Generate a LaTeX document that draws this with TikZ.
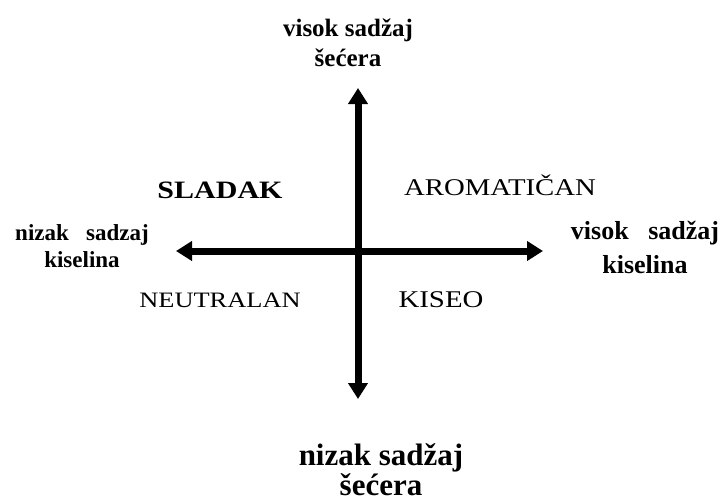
\documentclass[tikz,border=0pt]{standalone}
\usepackage{fontspec}
\setmainfont{Liberation Serif}
\newfontfamily\widefont[FakeStretch=1.2]{Liberation Serif}
\usetikzlibrary{arrows.meta}

\begin{document}
\begin{tikzpicture}[
    x=1pt, y=-1pt,
    >={Triangle[length=16pt, width=19pt]},
    axis/.style ={<->, line width=7pt},
    pole/.style ={align=center, inner sep=0pt},
    quad/.style ={anchor=base, inner sep=0pt},
]
\useasboundingbox (0,0) rectangle (722,501);
% axes
\coordinate (up)    at (358,88);
\coordinate (down)  at (358,399);
\coordinate (left)  at (176,251);
\coordinate (right) at (543,251);
\draw[axis] (down) -- (up);
\draw[axis] (left) -- (right);
% ends of the axes
\node[pole, font=\bfseries\fontsize{25}{30}\selectfont] (sugarhi) at (348,43)  {visok sadžaj\\šećera};
\node[pole, font=\bfseries\fontsize{31}{30}\selectfont] (sugarlo) at (381,470) {nizak sadžaj\\šećera};
\node[pole, font=\bfseries\fontsize{23}{27}\selectfont] (acidlo)  at (82,246)  {nizak\hspace{0.5em} sadzaj\\kiselina};
\node[pole, font=\bfseries\fontsize{26}{34}\selectfont] (acidhi)  at (645,247) {visok\hspace{0.5em} sadžaj\\kiselina};
% quadrants
\node[quad, font=\widefont\bfseries\fontsize{25}{30}\selectfont] (sweet)   at (220,198) {SLADAK};
\node[quad, font=\widefont\fontsize{24}{28}\selectfont]          (aroma)   at (500,195) {AROMATIČAN};
\node[quad, font=\widefont\fontsize{22}{26}\selectfont]          (neutral) at (220,307) {NEUTRALAN};
\node[quad, font=\widefont\fontsize{24}{28}\selectfont]          (sour)    at (441,307) {KISEO};
\end{tikzpicture}
\end{document}
